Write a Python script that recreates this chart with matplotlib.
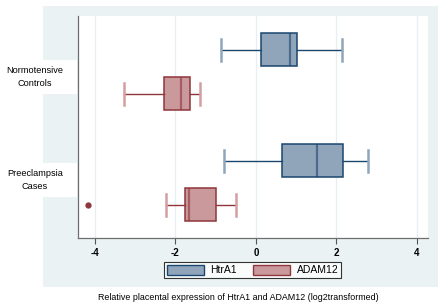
import matplotlib
matplotlib.use("Agg")
import matplotlib.pyplot as plt
from matplotlib.patches import Rectangle, Patch

plt.rcParams["font.family"] = ["Liberation Sans", "DejaVu Sans"]

groups = ["Normotensive\nControls", "Preeclampsia\nCases"]
series = ["HtrA1", "ADAM12"]
# per group: [whislo, q1, med, q3, whishi]
htra1 = {"Normotensive\nControls": [-0.87, 0.13, 0.84, 1.03, 2.13],
         "Preeclampsia\nCases": [-0.79, 0.645, 1.51, 2.17, 2.79]}
adam12 = {"Normotensive\nControls": [-3.26, -2.28, -1.86, -1.64, -1.39],
          "Preeclampsia\nCases": [-2.23, -1.75, -1.66, -0.99, -0.50]}
htra1_out = {"Normotensive\nControls": [], "Preeclampsia\nCases": []}
adam12_out = {"Normotensive\nControls": [], "Preeclampsia\nCases": [-4.15]}
xticks = [-4, -2, 0, 2, 4]
xlabel = "Relative placental expression of HtrA1 and ADAM12 (log2transformed)"

W, H = 443, 308
fig = plt.figure(figsize=(W/100, H/100), dpi=100)
fig.patch.set_facecolor("white")
bg = "#eaf2f3"
fig.patches.append(Rectangle((43/W, 1-287/H), (438-43)/W, (287-6)/H,
                             transform=fig.transFigure, facecolor=bg,
                             edgecolor="none", zorder=-5))

ax = fig.add_axes([78/W, 1-238/H, (428-78)/W, (238-16)/H])
ax.set_zorder(1)
ax.set_facecolor("white")

blue_fill, blue_edge, blue_cap = "#90a5ba", "#1a476f", "#8fa5bb"
red_fill, red_edge, red_cap = "#c9999c", "#90353b", "#d59ea1"

group_pos = [0.0, 2.52]
offs = [0.0, 1.0]
for gi, g in enumerate(groups):
    for si, (data, outs, fc, ec, cc) in enumerate([
            (htra1, htra1_out, blue_fill, blue_edge, blue_cap),
            (adam12, adam12_out, red_fill, red_edge, red_cap)]):
        lo, q1, med, q3, hi = data[g]
        st = [dict(whislo=lo, q1=q1, med=med, q3=q3, whishi=hi, fliers=outs[g])]
        ax.bxp(st, positions=[group_pos[gi] + offs[si]], vert=False,
               widths=0.75, capwidths=0.5, patch_artist=True,
               boxprops=dict(facecolor=fc, edgecolor=ec, linewidth=1.1),
               medianprops=dict(color=ec, linewidth=1.6, alpha=0.6),
               whiskerprops=dict(color=ec, linewidth=1.0),
               capprops=dict(color=cc, linewidth=1.8),
               flierprops=dict(marker="o", markersize=3.5, markerfacecolor=ec,
                               markeredgecolor=ec))

ax.set_xlim(-4.41, 4.27)
ax.set_ylim(4.27, -0.77)
ax.set_xticks(xticks)
ax.set_xticklabels([str(t) for t in xticks], fontweight="bold", fontsize=7)
ax.set_yticks([])
ax.tick_params(axis="x", length=4, width=0.8, color="#555555", pad=3)
ax.grid(axis="x", color="#e8eff3", linewidth=1.0)
ax.set_axisbelow(True)
for s in ["top", "right"]:
    ax.spines[s].set_visible(False)
for s in ["left", "bottom"]:
    ax.spines[s].set_color("#6e6e6e")
    ax.spines[s].set_linewidth(0.9)

# group label boxes
label_y = [(60, 94), (163, 197)]
for g, (y0, y1) in zip(groups, label_y):
    fig.patches.append(Rectangle((0, 1-y1/H), 77/W, (y1-y0)/H,
                                 transform=fig.transFigure, facecolor="white",
                                 edgecolor="none", zorder=2))
    fig.text(35/W, 1-(y0+y1)/2/H, g, ha="center", va="center",
             fontsize=6.6, linespacing=1.5, zorder=3)

handles = [Patch(facecolor=blue_fill, edgecolor=blue_edge, label=series[0]),
           Patch(facecolor=red_fill, edgecolor=red_edge, label=series[1])]
leg = fig.legend(handles=handles, loc="center", ncol=2,
                 bbox_to_anchor=(252.5/W, 1-270/H), fontsize=7.5, frameon=True,
                 fancybox=False, edgecolor="black", handlelength=3.6,
                 handleheight=1.1, columnspacing=1.5, borderpad=0.3,
                 handletextpad=0.6)
leg.get_frame().set_linewidth(0.8)
leg.set_zorder(3)

fig.text(238/W, 1-297/H, xlabel, ha="center", va="center", fontsize=6.4)

fig.savefig("out.png", dpi=100, facecolor="white")
